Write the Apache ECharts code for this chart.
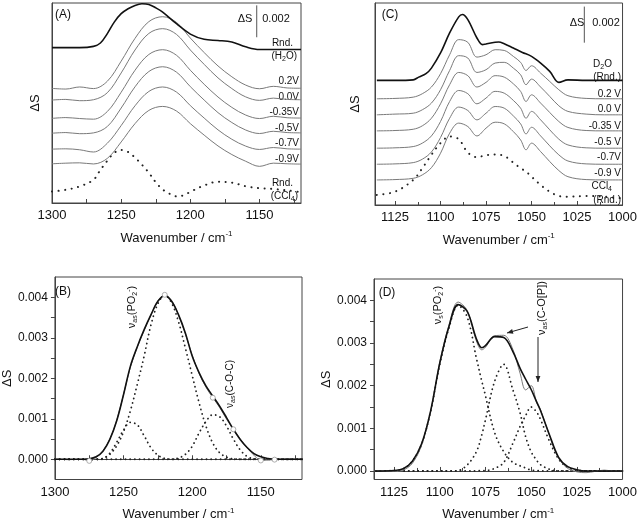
<!DOCTYPE html>
<html>
<head>
<meta charset="utf-8">
<script src="https://cdn.jsdelivr.net/npm/echarts@6/dist/echarts.min.js"></script>
<style>html,body{margin:0;background:#fff}#chart{width:640px;height:522px}</style>
</head>
<body>
<div id="chart"></div>
<script>
// ---------- (A) stacked spectra, ΔS in 1e-3 units ----------
const wnA = [1300,1290,1280,1270,1260,1250,1240,1230,1220,1210,1200,1190,1180,1170,1160,1150,1140,1130,1120];
const a02  = [7.19,7.15,7.28,7.18,7.64,8.90,10.33,11.38,11.69,11.33,10.35,9.44,8.60,7.92,7.40,7.17,7.32,7.22,7.20];
const a00  = [6.46,6.50,6.42,6.48,6.92,8.16,9.60,10.64,10.94,10.58,9.60,8.70,7.85,7.18,6.66,6.44,6.58,6.50,6.48];
const a035 = [5.31,5.36,5.30,5.26,5.74,6.95,8.33,9.32,9.62,9.27,8.33,7.45,6.65,6.00,5.52,5.30,5.44,5.35,5.33];
const a05  = [4.38,4.42,4.35,4.40,4.80,5.96,7.29,8.25,8.55,8.21,7.30,6.46,5.67,5.05,4.58,4.36,4.50,4.42,4.40];
const a07  = [3.38,3.40,3.34,3.20,3.75,4.86,6.10,7.00,7.28,6.96,6.11,5.33,4.59,4.00,3.57,3.36,3.48,3.40,3.38];
const a09  = [2.46,2.50,2.52,2.45,2.80,3.83,4.98,5.81,6.06,5.77,4.98,4.26,3.58,3.04,2.62,2.30,2.50,2.46,2.44];
const wnRndA = [1300,1280,1270,1265,1260,1255,1250,1245,1240,1235,1230,1225,1220,1210,1200,1190,1180,1170,1160,1150,1120];
const rndH2O = [9.75,9.75,9.83,10.04,10.63,11.35,11.88,12.19,12.40,12.50,12.46,12.25,11.98,11.25,10.60,10.27,10.20,10.10,9.80,9.63,9.63];
const wnCclA = [1300,1290,1280,1270,1265,1260,1255,1250,1245,1240,1235,1230,1225,1220,1215,1210,1205,1200,1190,1180,1170,1160,1150,1140,1130,1120];
const rndCclA = [0.72,0.83,1.04,1.46,2.08,2.65,3.15,3.33,3.20,2.85,2.40,1.90,1.30,0.85,0.58,0.42,0.48,0.70,1.10,1.33,1.28,1.05,0.93,0.88,0.79,0.68];
const scaleA = [1152, 10.4, 12.4];

// ---------- (C) stacked spectra ----------
const wnC = [1135,1125,1115,1110,1105,1100,1095,1090,1085,1080,1075,1070,1065,1060,1056,1053,1050,1045,1040,1035,1030,1020,1010,1000];
const c02  = [5.89,5.91,5.98,6.17,6.54,7.28,8.33,9.17,9.02,8.20,8.33,8.61,8.57,8.24,7.91,7.46,7.72,7.31,6.85,6.39,6.06,5.91,5.89,5.89];
const c00  = [5.00,5.04,5.09,5.28,5.65,6.39,7.46,8.28,8.15,7.35,7.50,7.87,7.91,7.59,7.22,6.67,6.98,6.54,6.02,5.50,5.19,5.04,5.00,5.00];
const c035 = [4.11,4.13,4.20,4.39,4.81,5.61,6.67,7.35,7.17,6.54,6.80,7.17,7.09,6.72,6.30,5.74,6.11,5.65,5.13,4.63,4.30,4.13,4.11,4.11];
const c05  = [3.15,3.17,3.24,3.43,3.83,4.63,5.74,6.35,6.17,5.61,5.93,6.30,6.20,5.80,5.37,4.81,5.19,4.72,4.17,3.65,3.33,3.17,3.15,3.15];
const c07  = [2.26,2.28,2.35,2.54,2.94,3.74,4.81,5.43,5.24,4.72,5.09,5.46,5.37,4.94,4.50,3.94,4.31,3.83,3.28,2.78,2.44,2.28,2.26,2.26];
const c09  = [1.39,1.41,1.48,1.67,2.07,2.87,3.98,4.54,4.35,3.83,4.26,4.59,4.50,4.07,3.61,3.06,3.43,2.96,2.41,1.91,1.57,1.41,1.39,1.39];
const rndCclC = [0.56,0.74,1.39,2.04,2.78,3.43,3.80,3.65,2.91,2.65,2.76,2.80,2.72,2.35,2.04,1.85,1.57,1.11,0.74,0.50,0.46,0.50,0.46,0.37];
const wnRndC = [1135,1125,1115,1112,1108,1105,1100,1095,1090,1088,1085,1080,1077,1075,1070,1068,1065,1060,1055,1050,1045,1040,1035,1030,1020,1000];
const rndD2O = [6.91,6.91,6.94,7.09,7.28,7.59,8.43,9.54,10.43,10.56,10.28,9.26,8.89,8.93,9.02,9.04,8.94,8.70,8.46,8.24,7.87,7.41,6.80,6.94,6.91,6.91];
const scaleC = [1021, 9.0, 11.0];

// ---------- (B) band fit ----------
const wnB = [1300,1290,1280,1275,1270,1265,1260,1255,1250,1245,1240,1235,1230,1225,1220,1215,1210,1205,1200,1195,1190,1185,1180,1175,1170,1165,1160,1155,1150,1145,1140,1130,1120];
const fitB = [0,0,0,0.00001,0.00006,0.0002,0.00049,0.00095,0.0016,0.0023,0.00278,0.0032,0.00357,0.0039,0.00404,0.0039,0.00357,0.00312,0.00255,0.00214,0.00181,0.00156,0.00131,0.00103,0.00074,0.00049,0.00029,0.00014,0.00006,0.00002,0,0,0];
const expB = [0.00001,-0.00001,0,-0.00004,0.00004,0.00021,0.0005,0.00096,0.0016,0.00228,0.00277,0.00318,0.00356,0.00391,0.00406,0.00392,0.00356,0.0031,0.00257,0.00212,0.00178,0.00152,0.00128,0.00099,0.00074,0.0005,0.00028,0.0001,-0.00003,-0.00002,-0.00001,0.00001,0];
const markB = [1275,1220,1185,1170,1150,1140];
const pasB = [0,0,0,0,0,0.00002,0.00012,0.00033,0.00068,0.0012,0.00185,0.00255,0.00332,0.00384,0.00405,0.00386,0.0034,0.00275,0.00207,0.0014,0.00082,0.0004,0.00016,0.00005,0.00001,0,0,0,0,0,0,0,0];
const shB  = [0,0,0,0,0,0.00002,0.00015,0.00042,0.00072,0.00091,0.00085,0.00058,0.00028,0.0001,0.00002,0,0,0,0,0,0,0,0,0,0,0,0,0,0,0,0,0,0];
const cocB = [0,0,0,0,0,0,0,0,0,0,0,0,0,0,0,0,0.00003,0.00012,0.00032,0.00065,0.00093,0.0011,0.00105,0.00082,0.0005,0.00023,0.00007,0.00001,0,0,0,0,0];

// ---------- (D) band fit ----------
const wnD = [1135,1125,1120,1115,1110,1105,1100,1095,1090,1085,1080,1077,1075,1070,1065,1060,1056,1053,1050,1047,1045,1040,1035,1030,1025,1020,1015,1010,1005,1000];
const fitD = [0,0.00001,0.00005,0.00023,0.00063,0.00141,0.00253,0.00338,0.0039,0.00374,0.0031,0.00289,0.00294,0.00315,0.00313,0.0028,0.0024,0.00215,0.00191,0.00162,0.00143,0.00085,0.00032,0.0001,0.00003,0,0,0,0,0];
const expD = [0.00001,-0.00001,0.00002,0.00018,0.0006,0.0014,0.00255,0.00342,0.00396,0.00376,0.00305,0.00284,0.0029,0.00317,0.00318,0.00285,0.00228,0.0019,0.002,0.0016,0.00145,0.00083,0.0003,0.00006,-0.00002,-0.00004,-0.00001,0.00002,0,0];
const psD  = [0,0.00001,0.00005,0.00023,0.00062,0.0014,0.0025,0.00335,0.00388,0.00361,0.00265,0.0021,0.00176,0.0009,0.00045,0.0002,0.00012,0.00007,0.00002,0.00001,0,0,0,0,0,0,0,0,0,0];
const midD = [0,0,0,0,0,0,0,0,0.00001,0.00014,0.00045,0.00085,0.0012,0.0021,0.0025,0.0019,0.00135,0.0008,0.00045,0.00025,0.00015,0.00004,0,0,0,0,0,0,0,0];
const copD = [0,0,0,0,0,0,0,0,0,0,0,0.00001,0.00001,0.00006,0.0002,0.00065,0.00105,0.0013,0.0015,0.00138,0.00122,0.0007,0.00028,0.00008,0.00002,0,0,0,0,0];

const FONT = 'Liberation Sans, Arial, sans-serif';
const INK = '#111';

function pairs(xs, ys) { return xs.map((x, i) => [x, ys[i]]); }

function line(idx, xs, ys, kind) {
  const s = {
    type: 'line', xAxisIndex: idx, yAxisIndex: idx,
    data: pairs(xs, ys), symbol: 'none', smooth: 0.35, silent: true,
  };
  if (kind === 'black') s.lineStyle = { color: '#111', width: 1.6 };
  else if (kind === 'gray') s.lineStyle = { color: '#7a7a7a', width: 1 };
  else if (kind === 'dotA') s.lineStyle = { color: '#222', width: 2, type: [0.1, 6.5], cap: 'round' };
  else s.lineStyle = { color: '#222', width: 1.8, type: [0.1, 4.6], cap: 'round' };
  return s;
}

function xAxis(idx, wide) {
  const ax = {
    gridIndex: idx, type: 'value', inverse: true,
    axisLine: { show: true, lineStyle: { color: '#444' } },
    splitLine: { show: false },
    axisLabel: { color: INK, fontSize: 13, fontFamily: FONT, margin: 6, formatter: v => String(v) },
    axisTick: { inside: true, length: 4, lineStyle: { color: '#444' } },
    name: 'Wavenumber / cm{sup|-1}', nameLocation: 'middle', nameGap: 27,
    nameTextStyle: { color: INK, fontSize: 13, fontFamily: FONT,
      rich: { sup: { fontSize: 8, fontFamily: FONT, color: INK, padding: [0, 0, 8, 0] } } },
  };
  if (wide) {
    ax.min = 1120; ax.max = 1300;
    ax.axisLabel.customValues = [1150, 1200, 1250, 1300];
    ax.axisTick.customValues = [1125, 1150, 1175, 1200, 1225, 1250, 1275, 1300];
  } else {
    ax.min = 1000; ax.max = 1136; ax.interval = 25;
    ax.minorTick = { show: true, splitNumber: 2, length: 3, lineStyle: { color: '#444' } };
  }
  return ax;
}

function yStack(idx, max, gap) {
  return {
    gridIndex: idx, type: 'value', min: 0, max: max,
    axisLine: { show: true, lineStyle: { color: '#444' } },
    axisTick: { show: false }, axisLabel: { show: false }, splitLine: { show: false },
    name: 'ΔS', nameLocation: 'middle', nameGap: gap, nameRotate: 90,
    nameTextStyle: { color: INK, fontSize: 13, fontFamily: FONT },
  };
}

function yFit(idx, min, gap) {
  return {
    gridIndex: idx, type: 'value', min: min, max: 0.0045,
    axisLine: { show: true, lineStyle: { color: '#444' } },
    splitLine: { show: false },
    axisTick: { length: 4, lineStyle: { color: '#444' },
      customValues: [0, 0.0005, 0.001, 0.0015, 0.002, 0.0025, 0.003, 0.0035, 0.004] },
    axisLabel: { color: INK, fontSize: 12, fontFamily: FONT, margin: 7,
      customValues: [0, 0.001, 0.002, 0.003, 0.004], formatter: v => v.toFixed(3) },
    name: 'ΔS', nameLocation: 'middle', nameGap: gap, nameRotate: 90,
    nameTextStyle: { color: INK, fontSize: 13, fontFamily: FONT },
  };
}

const RICH = {
  s: { fontSize: 7, fontFamily: FONT, fill: INK, padding: [6, 0, 0, 0] },
  p: { fontSize: 7, fontFamily: FONT, fill: INK, padding: [0, 0, 6, 0] },
};
function txt(x, y, text, size, align, rot) {
  return {
    type: 'text', x: x, y: y, rotation: rot || 0, silent: true,
    style: { text: text, fontSize: size, fontFamily: FONT, fill: INK,
      align: align || 'center', verticalAlign: 'middle', rich: RICH },
  };
}
function arrow(x1, y1, x2, y2) {
  const a = Math.atan2(y2 - y1, x2 - x1), L = 6, W = 2.4;
  const c = Math.cos(a), s = Math.sin(a);
  return [
    { type: 'line', silent: true, shape: { x1, y1, x2, y2 }, style: { stroke: '#222', lineWidth: 1 } },
    { type: 'polygon', silent: true, shape: { points: [[x2, y2],
      [x2 - L * c + W * s, y2 - L * s - W * c], [x2 - L * c - W * s, y2 - L * s + W * c]] },
      style: { fill: '#222' } },
  ];
}

const labelsA = ['0.2V', '0.0V', '-0.35V', '-0.5V', '-0.7V', '-0.9V'];
const labelYA = [81, 97, 112, 128, 143, 159];
const labelsC = ['0.2 V', '0.0 V', '-0.35 V', '-0.5 V', '-0.7V', '-0.9 V'];
const labelYC = [94, 109, 126, 142, 157, 173];

const graphics = [
  txt(63, 15, '(A)', 12), txt(390, 15, '(C)', 12), txt(63, 292, '(B)', 12), txt(387, 293, '(D)', 12),
  txt(245, 19, 'ΔS', 11), txt(276, 19, '0.002', 11),
  txt(577, 23, 'ΔS', 11), txt(606, 23, '0.002', 11),
  txt(293, 43, 'Rnd.', 10, 'right'), txt(297, 56, '(H{s|2}O)', 10, 'right'),
  txt(293, 183, 'Rnd.', 10, 'right'), txt(298, 196, '(CCl{s|4})', 10, 'right'),
  txt(612, 64, 'D{s|2}O', 10, 'right'), txt(621, 77, '(Rnd.)', 10, 'right'),
  txt(612, 186, 'CCl{s|4}', 10, 'right'), txt(621, 200, '(Rnd.)', 10, 'right'),
  txt(132, 307, 'ν{s|as}(PO{s|2}{p|-})', 11, 'center', Math.PI / 2),
  txt(230, 384, 'ν{s|as}(C-O-C)', 10, 'center', Math.PI / 2),
  txt(438, 305, 'ν{s|s}(PO{s|2}{p|-})', 11, 'center', Math.PI / 2),
  txt(542, 308, 'ν{s|as}(C-O[P])', 11, 'center', Math.PI / 2),
  ...arrow(528, 327, 507, 333),
  ...arrow(538, 337, 538, 382),
];
labelsA.forEach((t, i) => graphics.push(txt(299, labelYA[i], t, 10, 'right')));
labelsC.forEach((t, i) => graphics.push(txt(621, labelYC[i], t, 10, 'right')));

const scaleSeries = (idx, sc) => ({
  type: 'line', xAxisIndex: idx, yAxisIndex: idx, symbol: 'none', silent: true,
  data: [[sc[0], sc[1]], [sc[0], sc[2]]], lineStyle: { color: '#555', width: 1 },
});

const mB = line(2, wnB, expB, 'gray');
mB.showSymbol = true;
mB.symbolSize = 5;
mB.itemStyle = { color: '#fff', borderColor: '#9a9a9a', borderWidth: 0.8 };
mB.data = wnB.map((x, i) => ({ value: [x, expB[i]], symbol: markB.includes(x) ? 'circle' : 'none' }));

const option = {
  animation: false,
  backgroundColor: '#fff',
  grid: [
    { left: 52, top: 3, width: 249, height: 200, show: true, borderColor: '#444', borderWidth: 1 },
    { left: 375, top: 3, width: 252, height: 202, show: true, borderColor: '#444', borderWidth: 1 },
    { left: 51, top: 277, width: 251, height: 205, show: true, borderColor: '#444', borderWidth: 1 },
    { left: 374, top: 279, width: 253, height: 204, show: true, borderColor: '#444', borderWidth: 1 },
  ],
  xAxis: [xAxis(0, true), xAxis(1, false), xAxis(2, true), xAxis(3, false)],
  yAxis: [yStack(0, 12.55, 10), yStack(1, 11.2, 13), yFit(2, -0.0005, 34), yFit(3, -0.0002, 34)],
  series: [
    line(0, wnCclA, rndCclA, 'dotA'),
    line(0, wnA, a02, 'gray'), line(0, wnA, a00, 'gray'), line(0, wnA, a035, 'gray'),
    line(0, wnA, a05, 'gray'), line(0, wnA, a07, 'gray'), line(0, wnA, a09, 'gray'),
    line(0, wnRndA, rndH2O, 'black'),
    scaleSeries(0, scaleA),

    line(1, wnC, rndCclC, 'dotA'),
    line(1, wnC, c02, 'gray'), line(1, wnC, c00, 'gray'), line(1, wnC, c035, 'gray'),
    line(1, wnC, c05, 'gray'), line(1, wnC, c07, 'gray'), line(1, wnC, c09, 'gray'),
    line(1, wnRndC, rndD2O, 'black'),
    scaleSeries(1, scaleC),

    line(2, wnB, pasB, 'dot'), line(2, wnB, shB, 'dot'), line(2, wnB, cocB, 'dot'),
    mB,
    line(2, wnB, fitB, 'black'),

    line(3, wnD, psD, 'dot'), line(3, wnD, midD, 'dot'), line(3, wnD, copD, 'dot'),
    line(3, wnD, expD, 'gray'),
    line(3, wnD, fitD, 'black'),
  ],
  graphic: graphics,
};

const chart = echarts.init(document.getElementById('chart'));
chart.setOption(option);
</script>
</body>
</html>
